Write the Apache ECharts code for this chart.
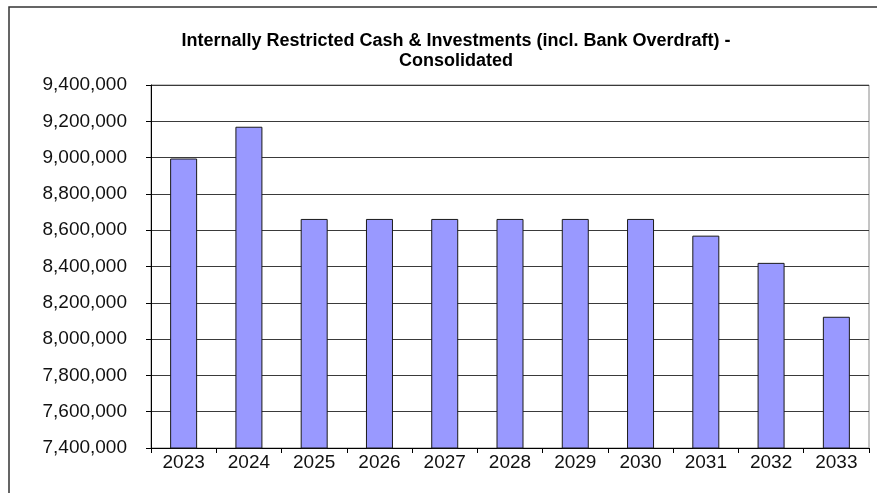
<!DOCTYPE html>
<html>
<head>
<meta charset="utf-8">
<script src="https://cdn.jsdelivr.net/npm/echarts@6/dist/echarts.min.js"></script>
<style>
  html, body { margin: 0; padding: 0; background: #fff; }
  #chart { width: 877px; height: 493px; }
</style>
</head>
<body>
<div id="chart"></div>
<script>
// Fiscal years on the category axis
const years = ['2023', '2024', '2025', '2026', '2027', '2028', '2029', '2030', '2031', '2032', '2033'];
// Internally restricted cash & investments balance per year
const balances = [8995000, 9170000, 8662000, 8662000, 8662000, 8662000, 8662000, 8662000, 8570000, 8420000, 8123000];
// Value axis range and step
const yMin = 7400000;
const yMax = 9400000;
const yStep = 200000;

const chart = echarts.init(document.getElementById('chart'), null, { renderer: 'canvas' });

const fmt = v => v.toString().replace(/\B(?=(\d{3})+(?!\d))/g, ',');

chart.setOption({
  backgroundColor: '#ffffff',
  animation: false,
  title: {
    text: 'Internally Restricted Cash & Investments (incl. Bank Overdraft) -\nConsolidated',
    left: 451,
    top: 26,
    textAlign: 'center',
    textStyle: {
      fontFamily: 'Liberation Sans, Arial, sans-serif',
      fontSize: 18,
      fontWeight: 'bold',
      color: '#000',
      lineHeight: 20
    }
  },
  graphic: [{
    type: 'rect',
    shape: { x: 9, y: 7, width: 900, height: 600 },
    style: { fill: 'none', stroke: '#333', lineWidth: 1.5 },
    silent: true
  }],
  grid: {
    left: 151,
    right: 8,
    top: 85,
    bottom: 45,
    show: true,
    borderColor: '#8a8a8a',
    borderWidth: 1,
    containLabel: false
  },
  xAxis: {
    type: 'category',
    data: years,
    axisLine: { lineStyle: { color: '#000', width: 1 } },
    axisTick: { show: true, length: 5, lineStyle: { color: '#000' } },
    axisLabel: {
      color: '#111',
      fontFamily: 'Liberation Sans, Arial, sans-serif',
      fontSize: 19,
      margin: 5
    }
  },
  yAxis: {
    type: 'value',
    min: yMin,
    max: yMax,
    interval: yStep,
    axisLine: { show: true, lineStyle: { color: '#000', width: 1 } },
    axisTick: { show: true, length: 5, lineStyle: { color: '#000' } },
    splitLine: { show: true, lineStyle: { color: '#3a3a3a', width: 1 } },
    axisLabel: {
      color: '#111',
      fontFamily: 'Liberation Sans, Arial, sans-serif',
      fontSize: 19,
      margin: 24,
      formatter: fmt
    }
  },
  series: [{
    type: 'bar',
    data: balances,
    barWidth: 27,
    itemStyle: {
      color: '#9999ff',
      borderColor: '#1a1a1a',
      borderWidth: 1
    }
  }]
});
</script>
</body>
</html>
